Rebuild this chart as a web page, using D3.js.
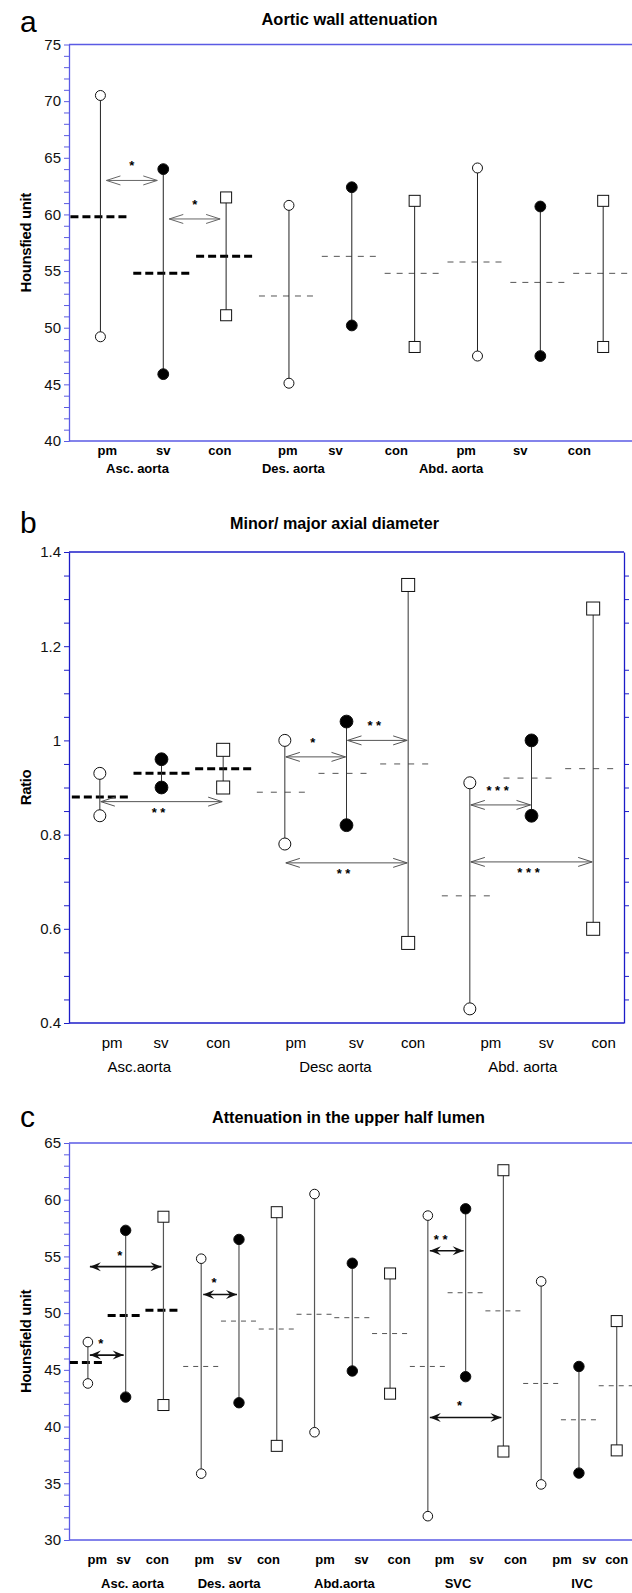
<!DOCTYPE html>
<html>
<head>
<meta charset="utf-8">
<script src="https://cdn.jsdelivr.net/npm/d3@7"></script>
<style>
  body { margin: 0; background: #fff; }
  svg { display: block; font-family: "Liberation Sans", Arial, sans-serif; }
</style>
</head>
<body>
<svg id="chart" width="632" height="1593"></svg>
<script>
// ---- panel a: aortic wall attenuation (HU)
const aCats = ['pm', 'sv', 'con', 'pm', 'sv', 'con', 'pm', 'sv', 'con'];
const aGroups = ['Asc. aorta', 'Des. aorta', 'Abd. aorta'];
const aHigh = [70.5, 64.0, 61.5, 60.8, 62.4, 61.2, 64.1, 60.7, 61.2];
const aLow = [49.2, 45.9, 51.1, 45.1, 50.2, 48.3, 47.5, 47.5, 48.3];
const aMean = [59.8, 54.8, 56.3, 52.8, 56.3, 54.8, 55.8, 54.0, 54.8];
// [from, to, value, stars, side]
const aSig = [[0, 1, 63.0, '*', 'up'], [1, 2, 59.6, '*', 'up']];

// ---- panel b: minor/major axial diameter ratio
const bCats = ['pm', 'sv', 'con', 'pm', 'sv', 'con', 'pm', 'sv', 'con'];
const bGroups = ['Asc.aorta', 'Desc aorta', 'Abd. aorta'];
const bHigh = [0.93, 0.96, 0.98, 1.0, 1.04, 1.33, 0.91, 1.0, 1.28];
const bLow = [0.84, 0.90, 0.90, 0.78, 0.82, 0.57, 0.43, 0.84, 0.60];
const bMean = [0.88, 0.93, 0.94, 0.89, 0.93, 0.95, 0.67, 0.92, 0.94];
const bSig = [
  [0, 2, 0.87, '* *', 'down'],
  [3, 4, 0.965, '*', 'up'],
  [4, 5, 1.0, '* *', 'up'],
  [3, 5, 0.74, '* *', 'down'],
  [6, 7, 0.863, '* * *', 'up'],
  [6, 8, 0.742, '* * *', 'down']
];

// ---- panel c: attenuation in the upper half lumen (HU)
const cCats = ['pm', 'sv', 'con', 'pm', 'sv', 'con', 'pm', 'sv', 'con', 'pm', 'sv', 'con', 'pm', 'sv', 'con'];
const cGroups = ['Asc. aorta', 'Des. aorta', 'Abd.aorta', 'SVC', 'IVC'];
const cHigh = [47.45, 57.3, 58.5, 54.8, 56.5, 58.9, 60.5, 54.4, 53.5, 58.6, 59.2, 62.6, 52.8, 45.3, 49.3];
const cLow = [43.8, 42.6, 41.9, 35.85, 42.1, 38.3, 39.5, 44.9, 42.9, 32.1, 44.4, 37.8, 34.9, 35.9, 37.9];
const cMean = [45.65, 49.8, 50.25, 45.3, 49.3, 48.6, 49.9, 49.6, 48.2, 45.3, 51.8, 50.2, 43.8, 40.6, 43.6];
const cSig = [
  [0, 1, 46.3, '*', 'up'],
  [0, 2, 54.1, '*', 'up'],
  [3, 4, 51.65, '*', 'up'],
  [9, 10, 55.5, '* *', 'up'],
  [9, 11, 40.8, '*', 'up']
];

const svg = d3.select('#chart');
const narrow = '"Liberation Sans Narrow", "Liberation Sans", Arial, sans-serif';

function drawPanel(p) {
  const g = svg.append('g');
  const n = p.cats.length;
  const x = d3.scaleLinear().domain([-0.5, n - 0.5]).range([p.left, p.right]);
  const y = d3.scaleLinear().domain(p.yDomain).range([p.bottom, p.top]);
  const isMajor = v => Math.abs(v / p.major - Math.round(v / p.major)) < 1e-6;
  const ticks = d3.range(p.yDomain[0], p.yDomain[1] + p.minor / 2, p.minor);

  // frame lines
  g.append('line')
    .attr('x1', p.left).attr('x2', p.right)
    .attr('y1', p.top).attr('y2', p.top)
    .attr('stroke', p.frame).attr('stroke-width', 1.3);
  g.append('line')
    .attr('x1', p.left).attr('x2', p.right)
    .attr('y1', p.bottom).attr('y2', p.bottom)
    .attr('stroke', p.frame).attr('stroke-width', 1.3);

  const styleAxis = s => {
    s.select('.domain').attr('stroke', p.frame).attr('stroke-width', 1.3);
    s.selectAll('.tick line').attr('stroke', p.frame);
    s.selectAll('.tick text')
      .attr('fill', '#111')
      .attr('font-size', p.yFont)
      .attr('font-family', '"Liberation Sans", Arial, sans-serif');
  };

  g.append('g')
    .attr('transform', `translate(${p.left},0)`)
    .call(d3.axisLeft(y).tickValues(ticks).tickSize(5).tickSizeOuter(0).tickPadding(3)
      .tickFormat(v => isMajor(v) ? String(Math.round(v * 10) / 10) : ''))
    .call(styleAxis);

  if (p.rightAxis) {
    g.append('g')
      .attr('transform', `translate(${p.right},0)`)
      .call(d3.axisRight(y).tickValues(ticks.filter(v => !isMajor(v))).tickSize(5).tickSizeOuter(0)
        .tickFormat(''))
      .call(styleAxis);
  }

  // group means (first group drawn heavy)
  p.mean.forEach((m, i) => {
    const heavy = i < 3;
    g.append('line')
      .attr('x1', x(i) - p.meanW / 2).attr('x2', x(i) + p.meanW / 2)
      .attr('y1', y(m)).attr('y2', y(m))
      .attr('stroke', heavy ? '#000' : '#555')
      .attr('stroke-width', heavy ? 3 : 1)
      .attr('stroke-dasharray', heavy ? '8,4' : p.thinDash);
  });

  // stems
  p.cats.forEach((c, i) => {
    g.append('line')
      .attr('x1', x(i)).attr('x2', x(i))
      .attr('y1', y(p.high[i])).attr('y2', y(p.low[i]))
      .attr('stroke', p.stem).attr('stroke-width', p.stemW);
  });

  // significance arrows
  p.sig.forEach(([a, b, v, stars, side]) => {
    const x1 = x(a) + p.inset, x2 = x(b) - p.inset, yy = y(v);
    g.append('line')
      .attr('x1', x1).attr('x2', x2).attr('y1', yy).attr('y2', yy)
      .attr('stroke', p.arrowColor).attr('stroke-width', p.arrowW);
    if (p.filledHeads) {
      const L = 11, H = 4.5;
      g.append('path')
        .attr('d', `M${x1},${yy}L${x1 + L},${yy - H}L${x1 + L - 4},${yy}L${x1 + L},${yy + H}Z`)
        .attr('fill', p.arrowColor);
      g.append('path')
        .attr('d', `M${x2},${yy}L${x2 - L},${yy - H}L${x2 - L + 4},${yy}L${x2 - L},${yy + H}Z`)
        .attr('fill', p.arrowColor);
    } else {
      const L = 14, H = 4.5;
      g.append('path')
        .attr('d', `M${x1 + L},${yy - H}L${x1},${yy}L${x1 + L},${yy + H}M${x2 - L},${yy - H}L${x2},${yy}L${x2 - L},${yy + H}`)
        .attr('fill', 'none').attr('stroke', p.arrowColor).attr('stroke-width', 1);
    }
    const cy = side === 'up' ? yy - p.starUp : yy + p.starDown;
    g.append('text')
      .attr('x', (x1 + x2) / 2 + p.starShift).attr('y', cy + 7)
      .attr('text-anchor', 'middle')
      .attr('font-size', 13).attr('font-weight', 'bold')
      .text(stars);
  });

  // end markers
  const marker = (c, i, v) => {
    if (c === 'con') {
      g.append('rect')
        .attr('x', x(i) - p.sq / 2).attr('y', y(v) - p.sq / 2)
        .attr('width', p.sq).attr('height', p.sq)
        .attr('fill', '#fff').attr('stroke', '#111').attr('stroke-width', 1);
    } else {
      g.append('circle')
        .attr('cx', x(i)).attr('cy', y(v))
        .attr('r', c === 'sv' ? p.r + 0.4 : p.r)
        .attr('fill', c === 'sv' ? '#000' : '#fff')
        .attr('stroke', '#111').attr('stroke-width', 1);
    }
  };
  p.cats.forEach((c, i) => { marker(c, i, p.high[i]); marker(c, i, p.low[i]); });

  // category and group labels
  p.cats.forEach((c, i) => {
    g.append('text')
      .attr('x', x(p.tickAt[i])).attr('y', p.tickY)
      .attr('text-anchor', 'middle')
      .attr('font-family', narrow)
      .attr('font-weight', p.labelBold ? 'bold' : 'normal')
      .attr('font-size', p.tickFont)
      .text(c);
  });
  p.groups.forEach((name, k) => {
    g.append('text')
      .attr('x', x(p.groupAt[k])).attr('y', p.groupY)
      .attr('text-anchor', 'middle')
      .attr('font-family', narrow)
      .attr('font-weight', p.labelBold ? 'bold' : 'normal')
      .attr('font-size', p.tickFont)
      .text(name);
  });

  // titles (condensed bold, stretched to the reference width)
  g.append('text')
    .attr('x', p.titleX).attr('y', p.titleY)
    .attr('text-anchor', 'middle')
    .attr('font-size', 17).attr('font-weight', 'bold')
    .attr('textLength', p.titleW).attr('lengthAdjust', 'spacingAndGlyphs')
    .text(p.title);
  g.append('text')
    .attr('x', 20).attr('y', p.letterY)
    .attr('font-size', 30)
    .text(p.letter);
  g.append('text')
    .attr('transform', `translate(31,${(p.top + p.bottom) / 2}) rotate(-90)`)
    .attr('text-anchor', 'middle')
    .attr('font-size', 15).attr('font-weight', 'bold')
    .attr('letter-spacing', -0.4)
    .text(p.yTitle);
}

drawPanel({
  cats: aCats, groups: aGroups, high: aHigh, low: aLow, mean: aMean, sig: aSig,
  left: 69, right: 634.6, top: 44.5, bottom: 441,
  yDomain: [40, 75], major: 5, minor: 1, rightAxis: false,
  frame: '#5a5ae4', stem: '#222', stemW: 1,
  meanW: 60, thinDash: '6,6',
  r: 5, sq: 11,
  filledHeads: false, arrowColor: '#666', arrowW: 1, inset: 6, starUp: 17, starDown: 9, starShift: 0,
  tickAt: [0.11, 1, 1.9, 2.98, 3.74, 4.71, 5.82, 6.68, 7.62],
  groupAt: [0.59, 3.07, 5.58],
  tickY: 455, groupY: 473, tickFont: 13, labelBold: true, yFont: 15,
  title: 'Aortic wall attenuation', titleX: 349.5, titleY: 25, titleW: 176,
  letter: 'a', letterY: 32, yTitle: 'Hounsfied unit'
});

drawPanel({
  cats: bCats, groups: bGroups, high: bHigh, low: bLow, mean: bMean, sig: bSig,
  left: 69, right: 624, top: 552, bottom: 1023,
  yDomain: [0.4, 1.4], major: 0.2, minor: 0.05, rightAxis: true,
  frame: '#1c1cc8', stem: '#333', stemW: 1,
  meanW: 56, thinDash: '6,8',
  r: 6, sq: 13,
  filledHeads: false, arrowColor: '#555', arrowW: 1, inset: 1, starUp: 17, starDown: 8, starShift: -3,
  tickAt: [0.2, 0.99, 1.92, 3.18, 4.16, 5.08, 6.34, 7.24, 8.17],
  groupAt: [0.64, 3.82, 6.86],
  tickY: 1048, groupY: 1072, tickFont: 15, labelBold: false, yFont: 15,
  title: 'Minor/ major axial diameter', titleX: 334.5, titleY: 529, titleW: 209,
  letter: 'b', letterY: 533, yTitle: 'Ratio'
});

drawPanel({
  cats: cCats, groups: cGroups, high: cHigh, low: cLow, mean: cMean, sig: cSig,
  left: 69, right: 635.6, top: 1143, bottom: 1540,
  yDomain: [30, 65], major: 5, minor: 1, rightAxis: false,
  frame: '#5a5ae4', stem: '#555', stemW: 1.2,
  meanW: 36, thinDash: '5,5',
  r: 4.8, sq: 11,
  filledHeads: true, arrowColor: '#111', arrowW: 1.6, inset: 2, starUp: 14, starDown: 9, starShift: -6,
  tickAt: [0.25, 0.94, 1.84, 3.08, 3.88, 4.78, 6.28, 7.24, 8.24, 9.44, 10.29, 11.32, 12.55, 13.27, 14.0],
  groupAt: [1.18, 3.74, 6.79, 9.8, 13.08],
  tickY: 1564, groupY: 1588, tickFont: 13, labelBold: true, yFont: 15,
  title: 'Attenuation in the upper half lumen', titleX: 348.5, titleY: 1123, titleW: 273,
  letter: 'c', letterY: 1127, yTitle: 'Hounsfield unit'
});
</script>
</body>
</html>
